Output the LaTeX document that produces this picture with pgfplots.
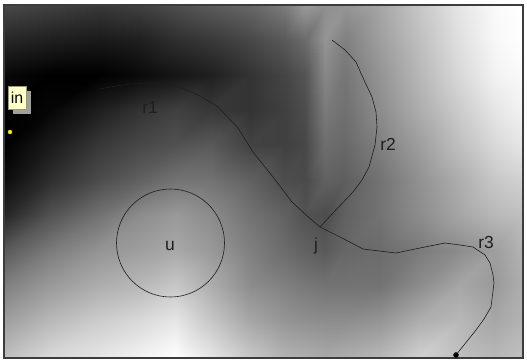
\documentclass[border=0pt]{standalone}
\usepackage{pgfplots}
\pgfplotsset{compat=1.18}
\usepackage{fontspec}
\setmainfont{Liberation Sans}
\definecolor{frame}{HTML}{3C3C3C}
\definecolor{curve}{HTML}{1E1E1E}
\definecolor{tipbg}{HTML}{FFFFC8}
\begin{document}
\begin{tikzpicture}
\begin{axis}[
  scale only axis, width=527bp, height=360bp,
  xmin=0, xmax=527, ymin=0, ymax=360, y dir=reverse,
  hide axis, clip=false,
  colormap={bw}{gray(0cm)=(0); gray(1cm)=(1)},
  point meta min=0, point meta max=1,
]
\fill[white] (axis cs:0,0) rectangle (axis cs:527,360);
\addplot[surf, shader=interp, mesh/cols=16, point meta=explicit] table[meta=g] {
x y g
5 6 0.28
50 6 0.25
100 6 0.22
140 6 0.25
175 6 0.30
210 6 0.35
250 6 0.40
285 6 0.48
305 6 0.60
325 6 0.56
345 6 0.58
380 6 0.65
420 6 0.78
460 6 0.90
495 6 0.98
522 6 1.00
5 40 0.15
50 40 0.12
100 40 0.10
140 40 0.12
175 40 0.18
210 40 0.22
250 40 0.28
285 40 0.35
305 40 0.42
325 40 0.58
345 40 0.50
380 40 0.62
420 40 0.75
460 40 0.88
495 40 0.97
522 40 1.00
5 75 0.03
50 75 0.00
100 75 0.00
140 75 0.04
175 75 0.08
210 75 0.12
250 75 0.20
285 75 0.27
305 75 0.33
325 75 0.53
345 75 0.46
380 75 0.58
420 75 0.72
460 75 0.85
495 75 0.95
522 75 0.98
5 110 0.00
50 110 0.02
100 110 0.12
140 110 0.20
175 110 0.25
210 110 0.22
250 110 0.20
285 110 0.25
305 110 0.30
325 110 0.48
345 110 0.44
380 110 0.55
420 110 0.68
460 110 0.80
495 110 0.90
522 110 0.95
5 145 0.00
50 145 0.10
100 145 0.22
140 145 0.28
175 145 0.32
210 145 0.35
250 145 0.26
285 145 0.25
305 145 0.28
325 145 0.43
345 145 0.41
380 145 0.50
420 145 0.62
460 145 0.75
495 145 0.85
522 145 0.90
5 180 0.05
50 180 0.18
100 180 0.30
140 180 0.38
175 180 0.45
210 180 0.45
250 180 0.38
285 180 0.30
305 180 0.29
325 180 0.38
345 180 0.37
380 180 0.45
420 180 0.57
460 180 0.68
495 180 0.78
522 180 0.82
5 215 0.15
50 215 0.32
100 215 0.45
140 215 0.55
175 215 0.60
210 215 0.55
250 215 0.45
285 215 0.38
305 215 0.32
325 215 0.30
345 215 0.38
380 215 0.45
420 215 0.55
460 215 0.65
495 215 0.72
522 215 0.75
5 250 0.35
50 250 0.48
100 250 0.58
140 250 0.62
175 250 0.66
210 250 0.60
250 250 0.50
285 250 0.42
305 250 0.38
325 250 0.35
345 250 0.40
380 250 0.42
420 250 0.48
460 250 0.55
495 250 0.62
522 250 0.70
5 285 0.50
50 285 0.60
100 285 0.68
140 285 0.72
175 285 0.78
210 285 0.68
250 285 0.55
285 285 0.50
305 285 0.47
325 285 0.45
345 285 0.45
380 285 0.45
420 285 0.55
460 285 0.65
495 285 0.60
522 285 0.68
5 320 0.62
50 320 0.72
100 320 0.80
140 320 0.85
175 320 0.90
210 320 0.78
250 320 0.65
285 320 0.58
305 320 0.56
325 320 0.55
345 320 0.55
380 320 0.58
420 320 0.68
460 320 0.72
495 320 0.65
522 320 0.70
5 357 0.75
50 357 0.85
100 357 0.90
140 357 0.95
175 357 1.00
210 357 0.90
250 357 0.78
285 357 0.70
305 357 0.68
325 357 0.66
345 357 0.68
380 357 0.72
420 357 0.82
460 357 0.75
495 357 0.72
522 357 0.75
};
% frame
\draw[frame, line width=1.5bp] (axis cs:4,5) rectangle (axis cs:523,358);
% r1
\addplot[curve, line width=0.6bp, mark=none] coordinates {
(100,89) (110,87) (130,84) (152,83) (182,88) (200,96) (218,107) (238,128)
(253,152) (273,177) (292,202) (305,214) (320,227)};
% r2
\addplot[curve, line width=0.6bp, mark=none] coordinates {
(332,40) (345,50) (356,62) (364,80) (372,97) (376,112) (377,127) (375,145)
(369,167) (362,180) (353,192) (333,213) (320,227)};
% r3
\addplot[curve, line width=0.6bp, mark=none] coordinates {
(320,227) (342,238) (363,249) (396,253) (420,248) (445,243) (460,245) (473,247)
(485,255) (490,263) (493,275) (494,283) (491,307) (484,319) (476,330) (456,355)};
% circle u
\addplot[only marks, mark=o, mark size=54bp, mark options={curve, line width=0.6bp}] coordinates {(170.5,243)};
% end dot
\addplot[only marks, mark=*, mark size=2.5bp, mark options={black}] coordinates {(456,355)};
% yellow dot
\addplot[only marks, mark=*, mark size=2bp, mark options={draw=yellow!85!black, fill=yellow}] coordinates {(10,132)};
% in label
\fill[gray!75] (axis cs:13,91) rectangle (axis cs:31,114);
\draw[tipbg!60!black, fill=tipbg, line width=0.4bp] (axis cs:8,86) rectangle (axis cs:26,109);
\node[font=\fontsize{16}{18}\selectfont, inner sep=0pt] at (axis cs:17,97.5) {in};
% labels
\node[font=\fontsize{17.5}{19}\selectfont, text=curve, inner sep=0pt] at (axis cs:150,107) {r1};
\node[font=\fontsize{17.5}{19}\selectfont, text=curve, inner sep=0pt] at (axis cs:388,144) {r2};
\node[font=\fontsize{17.5}{19}\selectfont, text=curve, inner sep=0pt] at (axis cs:486,242) {r3};
\node[font=\fontsize{17.5}{19}\selectfont, text=curve, inner sep=0pt] at (axis cs:316,246) {j};
\node[font=\fontsize{17.5}{19}\selectfont, text=curve, inner sep=0pt] at (axis cs:170,246) {u};
\end{axis}
\end{tikzpicture}
\end{document}
